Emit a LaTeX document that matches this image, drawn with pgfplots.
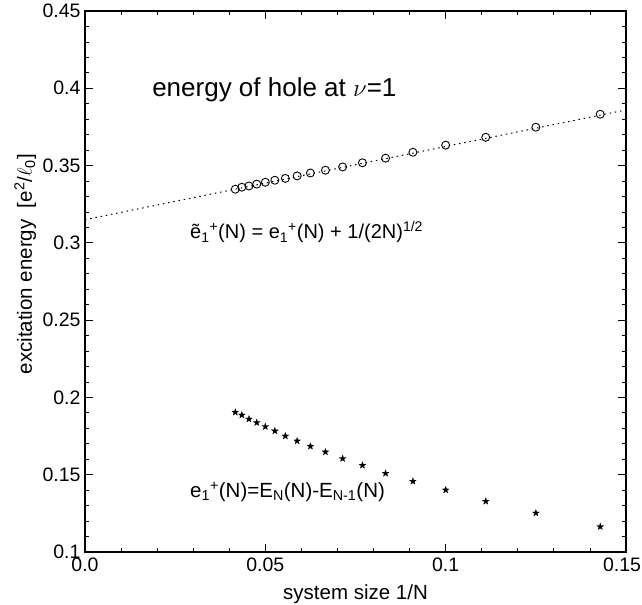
\documentclass[border=0pt]{standalone}
\usepackage{pgfplots}
\pgfplotsset{compat=1.18}
\usepackage{fontspec}
\setmainfont{Liberation Sans}

\pgfdeclareplotmark{fstar}{%
  \pgfpathmoveto{\pgfqpointpolar{90}{\pgfplotmarksize}}%
  \pgfpathlineto{\pgfqpointpolar{126}{0.4\pgfplotmarksize}}%
  \pgfpathlineto{\pgfqpointpolar{162}{\pgfplotmarksize}}%
  \pgfpathlineto{\pgfqpointpolar{198}{0.4\pgfplotmarksize}}%
  \pgfpathlineto{\pgfqpointpolar{234}{\pgfplotmarksize}}%
  \pgfpathlineto{\pgfqpointpolar{270}{0.4\pgfplotmarksize}}%
  \pgfpathlineto{\pgfqpointpolar{306}{\pgfplotmarksize}}%
  \pgfpathlineto{\pgfqpointpolar{342}{0.4\pgfplotmarksize}}%
  \pgfpathlineto{\pgfqpointpolar{18}{\pgfplotmarksize}}%
  \pgfpathlineto{\pgfqpointpolar{54}{0.4\pgfplotmarksize}}%
  \pgfpathclose
  \pgfusepathqfillstroke
}

\pgfplotstableread{
x        e1     et1
0.041667 0.1904 0.3347
0.043478 0.1886 0.3360
0.045455 0.1860 0.3368
0.047619 0.1837 0.3380
0.050000 0.1811 0.3392
0.052632 0.1783 0.3405
0.055556 0.1750 0.3417
0.058824 0.1718 0.3433
0.062500 0.1684 0.3452
0.066667 0.1647 0.3470
0.071429 0.1604 0.3491
0.076923 0.1561 0.3518
0.083333 0.1509 0.3548
0.090909 0.1457 0.3586
0.100000 0.1401 0.3632
0.111111 0.1328 0.3683
0.125000 0.1252 0.3748
0.142857 0.1164 0.3832
}\datatable

\begin{document}
\begin{tikzpicture}
\begin{axis}[
  scale only axis, width=541pt, height=541pt,
  xmin=0, xmax=0.15, ymin=0.1, ymax=0.45,
  xtick={0,0.05,0.1,0.15}, xticklabels={0.0,0.05,0.1,{0.15\hspace*{8pt}}},
  ytick={0.1,0.15,0.2,0.25,0.3,0.35,0.4,0.45},
  yticklabels={0.1,0.15,0.2,0.25,0.3,0.35,0.4,0.45},
  minor x tick num=4, minor y tick num=4,
  tick align=inside,
  major tick length=8pt, minor tick length=4pt,
  every tick/.style={black, line width=0.8pt},
  axis line style={line width=1.2pt},
  tick label style={font=\fontsize{19.5}{23}\selectfont},
  xticklabel style={yshift=-2pt},
  yticklabel style={xshift=-1pt},
  label style={font=\fontsize{20.5}{25}\selectfont, inner sep=0pt},
  xlabel={system size 1/N},
  xlabel style={at={(axis description cs:0.5,0)}, anchor=base, yshift=-48pt},
  ylabel={excitation energy\ \ [e\textsuperscript{2}/$\ell$\textsubscript{0}]},
  ylabel style={at={(axis description cs:-0.098,0.532)}, anchor=base},
  clip=false,
]
\coordinate (SW) at (rel axis cs:0,0);
\coordinate (NE) at (rel axis cs:1,1);
\addplot[black, line width=1pt, dash pattern=on 1.5pt off 3.8pt] coordinates {(0,0.315) (0.15,0.386)};
\addplot[only marks, mark=o, mark size=4pt, mark options={line width=0.9pt, black}] table[x=x, y=et1] {\datatable};
\addplot[only marks, mark=fstar, mark size=3.5pt, mark options={line width=0.3pt, black, fill=black}] table[x=x, y=e1] {\datatable};
\node[anchor=base west, inner sep=0pt, font=\fontsize{26}{31}\selectfont] at (axis cs:0.0186,0.3944) {energy of hole at $\nu$=1};
\node[anchor=base west, inner sep=0pt, font=\fontsize{20}{24}\selectfont] at (axis cs:0.0291,0.3025) {ẽ\textsubscript{1}\textsuperscript{+}(N) = e\textsubscript{1}\textsuperscript{+}(N) + 1/(2N)\textsuperscript{1/2}};
\node[anchor=base west, inner sep=0pt, font=\fontsize{20.5}{24}\selectfont] at (axis cs:0.0291,0.1351) {e\textsubscript{1}\textsuperscript{+}(N)=E\textsubscript{N}(N)-E\textsubscript{N-1}(N)};
\end{axis}
\pgfresetboundingbox
\path[use as bounding box] ([xshift=-85pt,yshift=-53pt]SW) rectangle ([xshift=16pt,yshift=11pt]NE);
\end{tikzpicture}
\end{document}
